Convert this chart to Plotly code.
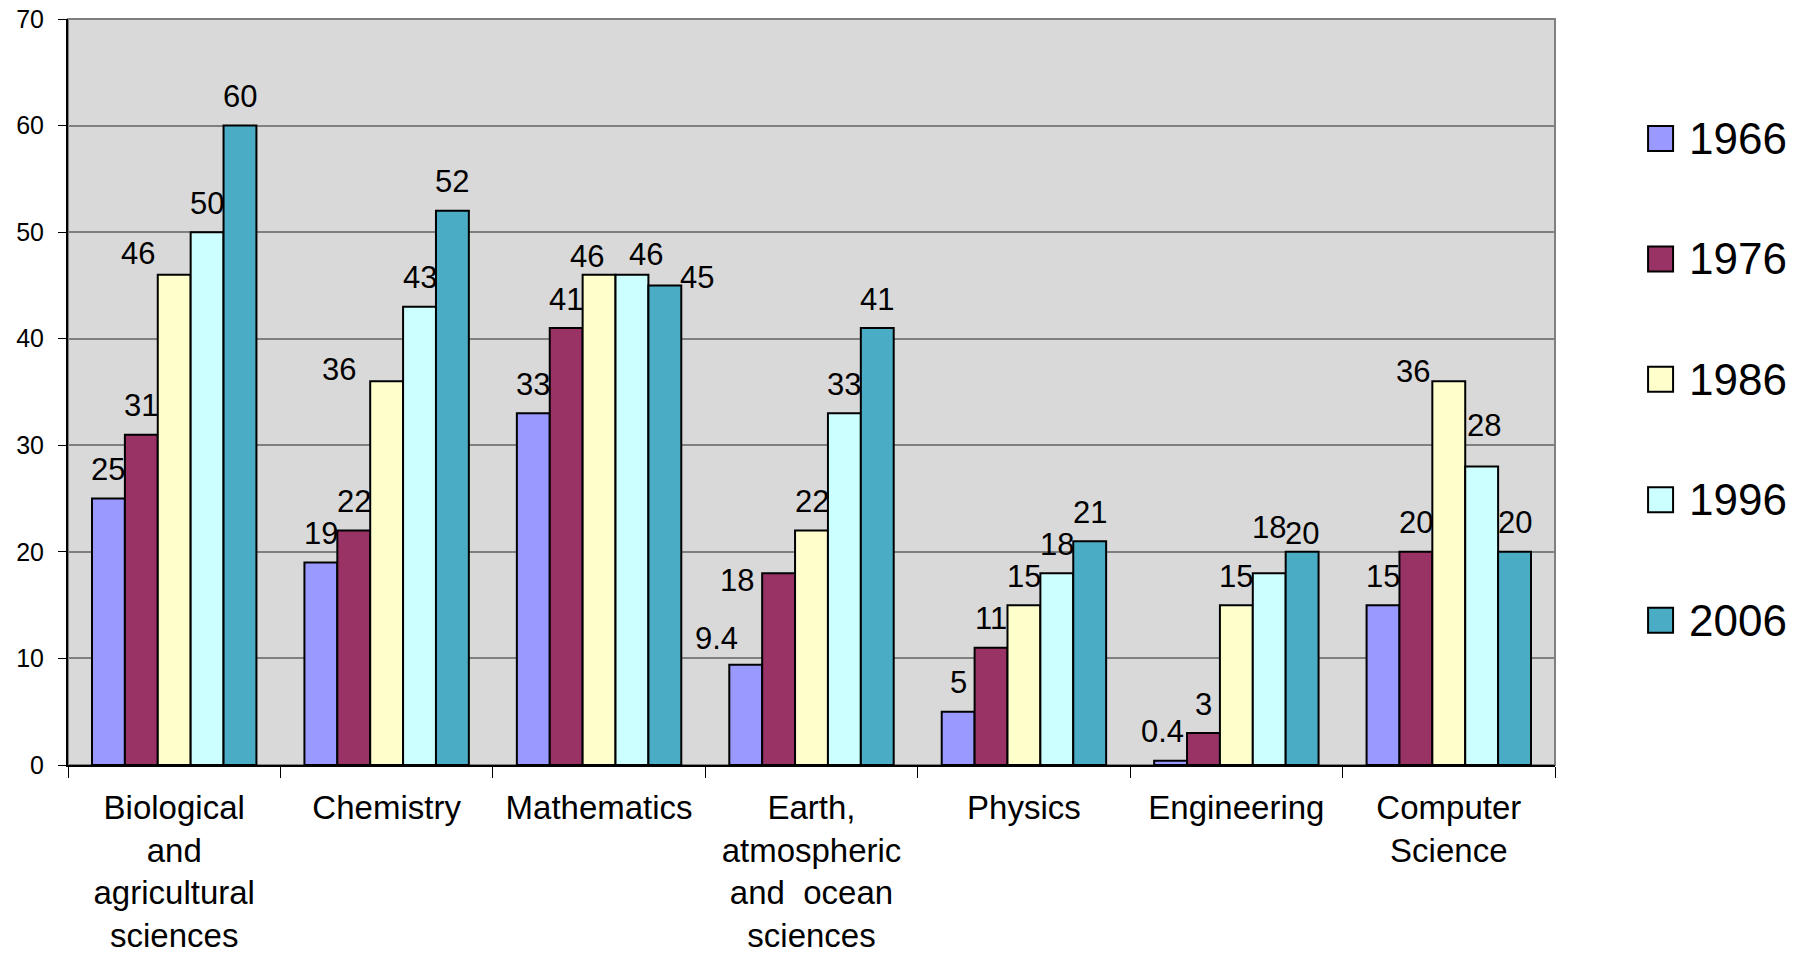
import plotly.graph_objects as go

# Share of degrees by field, five survey years
categories = [
    "Biological<br>and<br>agricultural<br>sciences",
    "Chemistry",
    "Mathematics",
    "Earth,<br>atmospheric<br>and  ocean<br>sciences",
    "Physics",
    "Engineering",
    "Computer<br>Science",
]
years = ["1966", "1976", "1986", "1996", "2006"]
v1966 = [25, 19, 33, 9.4, 5, 0.4, 15]
v1976 = [31, 22, 41, 18, 11, 3, 20]
v1986 = [46, 36, 46, 22, 15, 15, 36]
v1996 = [50, 43, 46, 33, 18, 18, 28]
v2006 = [60, 52, 45, 41, 21, 20, 20]
series = [v1966, v1976, v1986, v1996, v2006]
colors = ["#9999FF", "#993366", "#FFFFCC", "#CCFFFF", "#4BACC6"]

# Hand-placed data labels: (category index, series index) -> (dx, dy) nudge in px
label_nudges = {
    (0, 2): (-36, -8),
    (1, 2): (-48, -17),
    (2, 2): (-12, -11),
    (2, 3): (14, -9),
    (2, 4): (32, -21),
    (3, 0): (-29, -3),
    (3, 1): (-42, -36),
    (5, 0): (-8, 0),
    (5, 3): (0, 17),
    (5, 4): (0, -11),
    (6, 2): (-36, -19),
    (6, 3): (2, 12),
}

FONT = "Arial, Liberation Sans, sans-serif"
W, H = 1810, 954
M = dict(l=68, r=255, t=19, b=189)
BARGAP = 0.226

fig = go.Figure()
for name, vals, col in zip(years, series, colors):
    fig.add_trace(go.Bar(
        x=categories, y=vals, name=name,
        marker=dict(color=col, line=dict(color="black", width=2)),
    ))

# Pixel width of one bar within a group, used to centre labels on bars
plot_w = W - M["l"] - M["r"]
bar_w = plot_w / len(categories) * (1 - BARGAP) / len(series)

annotations = []
for j, vals in enumerate(series):
    for i, v in enumerate(vals):
        dx, dy = label_nudges.get((i, j), (0, 0))
        annotations.append(dict(
            x=categories[i], y=v, xref="x", yref="y", text=str(v), showarrow=False,
            xanchor="center", yanchor="middle",
            xshift=(j - (len(series) - 1) / 2) * bar_w + dx, yshift=29 + dy,
            font=dict(family=FONT, size=31, color="black"),
        ))

# Legend drawn as swatches plus labels to the right of the plot
shapes = [dict(type="rect", xref="paper", yref="paper", x0=0, x1=1, y0=0, y1=1,
               line=dict(color="#808080", width=2), fillcolor="rgba(0,0,0,0)", layer="below")]
for i, (name, col) in enumerate(zip(years, colors)):
    yc = 0.8398 - i * 0.1614
    shapes.append(dict(type="rect", xref="paper", yref="paper",
                       xsizemode="pixel", ysizemode="pixel",
                       xanchor=1.071, yanchor=yc, x0=-12.5, x1=12.5, y0=-12.5, y1=12.5,
                       fillcolor=col, line=dict(color="black", width=2)))
    annotations.append(dict(x=1.0885, y=yc, xref="paper", yref="paper", text=name,
                            showarrow=False, xanchor="left", yanchor="middle",
                            font=dict(family=FONT, size=44, color="black")))

fig.update_layout(
    width=W, height=H,
    margin=M,
    paper_bgcolor="white", plot_bgcolor="#D9D9D9",
    barmode="group", bargap=BARGAP, bargroupgap=0,
    showlegend=False,
    font=dict(family=FONT, color="black"),
    shapes=shapes, annotations=annotations,
)
fig.update_yaxes(range=[0, 70], dtick=10, showgrid=True, gridcolor="#808080", gridwidth=1.5,
                 showline=True, linecolor="black", linewidth=2, ticks="outside", ticklen=8,
                 tickcolor="black", tickwidth=1, tickfont=dict(family=FONT, size=25, color="black"),
                 zeroline=False, ticklabelstandoff=9, automargin=False)
fig.update_xaxes(showline=True, linecolor="black", linewidth=2, ticks="outside", ticklen=11,
                 tickcolor="black", tickwidth=1, tickson="boundaries",
                 tickfont=dict(family=FONT, size=33, color="black"), showgrid=False,
                 ticklabelstandoff=12, automargin=False)

fig.write_html("out.html")
